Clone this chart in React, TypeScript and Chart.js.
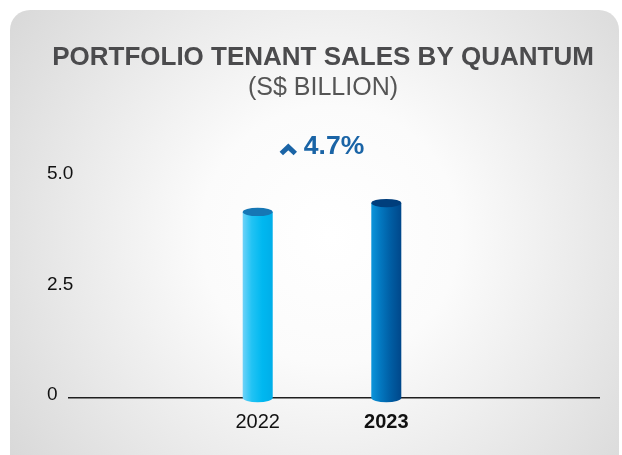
import React, { useEffect, useRef } from "react";
import { Chart, registerables } from "chart.js";

Chart.register(...registerables);

const categories: string[] = ["2022", "2023"];
const salesValues: number[] = [4.21, 4.41];
const yTickValues: number[] = [0, 2.5, 5];
const titleText = "PORTFOLIO TENANT SALES BY QUANTUM";
const subtitleText = "(S$ BILLION)";
const growthText = "4.7%";

const FONT = "'Liberation Sans', Arial, sans-serif";

const bodyColors: string[][] = [
  ["#6fd2f8", "#22c3f4", "#00b8f0", "#00aee9"],
  ["#0b95db", "#0378c0", "#005da3", "#00478a"],
];
const capColors: string[] = ["#1677b5", "#003e7c"];

const cardPlugin = {
  id: "card",
  beforeDraw(chart: any) {
    const ctx = chart.ctx;
    ctx.save();
    ctx.fillStyle = "#ffffff";
    ctx.fillRect(0, 0, chart.width, chart.height);
    const g = ctx.createRadialGradient(330, 235, 0, 330, 235, 430);
    g.addColorStop(0, "#ffffff");
    g.addColorStop(0.3, "#fbfbfb");
    g.addColorStop(1, "#d3d3d3");
    ctx.fillStyle = g;
    ctx.beginPath();
    ctx.roundRect(10, 10, 609, 470, 20);
    ctx.fill();
    ctx.restore();
  },
};

const cylinderPlugin = {
  id: "cylinders",
  afterDatasetsDraw(chart: any) {
    const ctx = chart.ctx;
    const meta = chart.getDatasetMeta(0);
    meta.data.forEach((bar: any, i: number) => {
      const { x, y, base, width } = bar.getProps(["x", "y", "base", "width"], true);
      const rx = width / 2;
      const ry = 4.2;
      const l = x - rx;
      const r = x + rx;
      const g = ctx.createLinearGradient(l, 0, r, 0);
      const cols = bodyColors[i % bodyColors.length];
      g.addColorStop(0, cols[0]);
      g.addColorStop(0.3, cols[1]);
      g.addColorStop(0.65, cols[2]);
      g.addColorStop(1, cols[3]);
      ctx.save();
      ctx.beginPath();
      ctx.moveTo(l, y);
      ctx.lineTo(l, base);
      ctx.ellipse(x, base, rx, ry, 0, Math.PI, 0, true);
      ctx.lineTo(r, y);
      ctx.closePath();
      ctx.fillStyle = g;
      ctx.fill();
      ctx.beginPath();
      ctx.ellipse(x, y, rx, ry, 0, 0, Math.PI * 2);
      ctx.fillStyle = capColors[i % capColors.length];
      ctx.fill();
      ctx.restore();
    });
  },
};

const growthPlugin = {
  id: "growth",
  afterDraw(chart: any) {
    const ctx = chart.ctx;
    const meta = chart.getDatasetMeta(0);
    const xs = meta.data.map((b: any) => b.x);
    const cx = (Math.min(...xs) + Math.max(...xs)) / 2;
    const cy = chart.chartArea.top - 31;
    ctx.save();
    ctx.font = `bold 26.5px ${FONT}`;
    const tw = ctx.measureText(growthText).width;
    const chevW = 17;
    const gap = 7;
    const total = chevW + gap + tw;
    const start = cx - total / 2;
    ctx.strokeStyle = "#1a64a6";
    ctx.lineWidth = 5;
    ctx.lineJoin = "miter";
    ctx.lineCap = "butt";
    ctx.beginPath();
    ctx.moveTo(start + 1.5, cy + 7.5);
    ctx.lineTo(start + chevW / 2, cy + 1);
    ctx.lineTo(start + chevW - 1.5, cy + 7.5);
    ctx.stroke();
    ctx.fillStyle = "#1a64a6";
    ctx.textAlign = "left";
    ctx.textBaseline = "middle";
    ctx.fillText(growthText, start + chevW + gap, cy + 1);
    ctx.restore();
  },
};

export default function App() {
  const ref = useRef<HTMLCanvasElement | null>(null);

  useEffect(() => {
    if (!ref.current) return;
    const chart = new Chart(ref.current, {
      type: "bar",
      data: {
        datasets: [
          {
            label: "Tenant sales",
            data: categories.map((_, i) => ({ x: i, y: salesValues[i] })),
            backgroundColor: "rgba(0,0,0,0)",
            borderWidth: 0,
            barThickness: 30,
          },
        ],
      },
      options: {
        animation: false,
        responsive: false,
        maintainAspectRatio: false,
        devicePixelRatio: 1,
        layout: { padding: { left: 47, right: 23, top: 0, bottom: 9 } },
        plugins: {
          legend: { display: false },
          tooltip: { enabled: false },
          title: {
            display: true,
            text: titleText,
            color: "#4b4b4d",
            font: { family: FONT, size: 26, weight: "bold", lineHeight: 1 },
            padding: { top: 45, bottom: 0 },
          },
          subtitle: {
            display: true,
            text: subtitleText,
            color: "#555555",
            font: { family: FONT, size: 25, weight: "normal", lineHeight: 1 },
            padding: { top: 5, bottom: 76 },
          },
        },
        scales: {
          x: {
            type: "linear",
            offset: false,
            bounds: "data",
            min: -1.4674,
            max: 2.654,
            grid: { display: false, drawTicks: false, offset: false },
            border: { display: true, color: "#1f1f1f", width: 1.5 },
            afterBuildTicks: (scale: any) => {
              scale.ticks = categories.map((_, i) => ({ value: i }));
            },
            ticks: {
              autoSkip: false,
              padding: 12,
              color: "#111111",
              callback: (v: any) => categories[Math.round(Number(v))] ?? "",
              font: (c: any) => ({
                family: FONT,
                size: 20,
                weight: c.tick && c.tick.value === categories.length - 1 ? "bold" : "normal",
              }),
            },
          },
          y: {
            min: 0,
            max: 5,
            grid: { display: false, drawTicks: false },
            border: { display: false },
            afterBuildTicks: (scale: any) => {
              scale.ticks = yTickValues.map((v) => ({ value: v }));
            },
            afterFit: (scale: any) => {
              scale.width = 22;
              // let labels extend past the narrow axis box instead of being clipped
              scale._computeLabelArea = () => undefined;
            },
            ticks: {
              crossAlign: "far",
              padding: 0,
              labelOffset: -3,
              color: "#111111",
              font: { family: FONT, size: 19 },
              callback: (v: any) => (Number(v) === 0 ? "0" : Number(v).toFixed(1)),
            },
          },
        },
      },
      plugins: [cardPlugin, cylinderPlugin, growthPlugin],
    });
    return () => chart.destroy();
  }, []);

  return (
    <div style={{ position: "absolute", left: 0, top: 0, width: 622, height: 455 }}>
      <canvas ref={ref} width={622} height={455} style={{ display: "block" }} />
    </div>
  );
}
